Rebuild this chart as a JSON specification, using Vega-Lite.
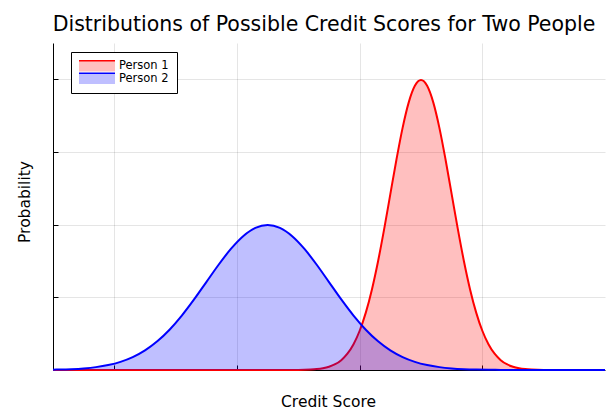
{
  "$schema": "https://vega.github.io/schema/vega-lite/v6.json",
  "width": 552,
  "height": 327,
  "autosize": {"type": "none"},
  "padding": {"left": 53, "top": 43, "right": 8, "bottom": 40},
  "background": "white",
  "config": {"font": "DejaVu Sans", "view": {"stroke": null}},
  "title": {
    "text": "Distributions of Possible Credit Scores for Two People",
    "fontSize": 20.5,
    "fontWeight": "normal",
    "color": "#000",
    "anchor": "middle",
    "frame": "group",
    "baseline": "alphabetic",
    "offset": 13,
    "dx": -5,
    "dy": 21
  },
  "data": {
    "values": [
      {"score": 350, "prob": 0, "person": "Person 1"},
      {"score": 400, "prob": 0, "person": "Person 1"},
      {"score": 450, "prob": 0, "person": "Person 1"},
      {"score": 500, "prob": 0, "person": "Person 1"},
      {"score": 530, "prob": 0, "person": "Person 1"},
      {"score": 540, "prob": 0.000001, "person": "Person 1"},
      {"score": 545, "prob": 0.0000024, "person": "Person 1"},
      {"score": 550, "prob": 0.0000053, "person": "Person 1"},
      {"score": 555, "prob": 0.0000117, "person": "Person 1"},
      {"score": 560, "prob": 0.0000245, "person": "Person 1"},
      {"score": 565, "prob": 0.0000493, "person": "Person 1"},
      {"score": 570, "prob": 0.0000954, "person": "Person 1"},
      {"score": 575, "prob": 0.000177, "person": "Person 1"},
      {"score": 580, "prob": 0.000317, "person": "Person 1"},
      {"score": 585, "prob": 0.000543, "person": "Person 1"},
      {"score": 590, "prob": 0.000896, "person": "Person 1"},
      {"score": 595, "prob": 0.001419, "person": "Person 1"},
      {"score": 600, "prob": 0.00216, "person": "Person 1"},
      {"score": 605, "prob": 0.003158, "person": "Person 1"},
      {"score": 610, "prob": 0.004437, "person": "Person 1"},
      {"score": 615, "prob": 0.005989, "person": "Person 1"},
      {"score": 620, "prob": 0.007767, "person": "Person 1"},
      {"score": 625, "prob": 0.009679, "person": "Person 1"},
      {"score": 630, "prob": 0.011588, "person": "Person 1"},
      {"score": 635, "prob": 0.013329, "person": "Person 1"},
      {"score": 640, "prob": 0.014731, "person": "Person 1"},
      {"score": 645, "prob": 0.015642, "person": "Person 1"},
      {"score": 650, "prob": 0.015958, "person": "Person 1"},
      {"score": 655, "prob": 0.015642, "person": "Person 1"},
      {"score": 660, "prob": 0.014731, "person": "Person 1"},
      {"score": 665, "prob": 0.013329, "person": "Person 1"},
      {"score": 670, "prob": 0.011588, "person": "Person 1"},
      {"score": 675, "prob": 0.009679, "person": "Person 1"},
      {"score": 680, "prob": 0.007767, "person": "Person 1"},
      {"score": 685, "prob": 0.005989, "person": "Person 1"},
      {"score": 690, "prob": 0.004437, "person": "Person 1"},
      {"score": 695, "prob": 0.003158, "person": "Person 1"},
      {"score": 700, "prob": 0.00216, "person": "Person 1"},
      {"score": 705, "prob": 0.001419, "person": "Person 1"},
      {"score": 710, "prob": 0.000896, "person": "Person 1"},
      {"score": 715, "prob": 0.000543, "person": "Person 1"},
      {"score": 720, "prob": 0.000317, "person": "Person 1"},
      {"score": 725, "prob": 0.000177, "person": "Person 1"},
      {"score": 730, "prob": 0.0000954, "person": "Person 1"},
      {"score": 735, "prob": 0.0000493, "person": "Person 1"},
      {"score": 740, "prob": 0.0000245, "person": "Person 1"},
      {"score": 745, "prob": 0.0000117, "person": "Person 1"},
      {"score": 750, "prob": 0.0000053, "person": "Person 1"},
      {"score": 755, "prob": 0.0000024, "person": "Person 1"},
      {"score": 760, "prob": 0.000001, "person": "Person 1"},
      {"score": 780, "prob": 0, "person": "Person 1"},
      {"score": 800, "prob": 0, "person": "Person 1"},
      {"score": 350, "prob": 0.0000175, "person": "Person 2"},
      {"score": 355, "prob": 0.0000246, "person": "Person 2"},
      {"score": 365, "prob": 0.0000477, "person": "Person 2"},
      {"score": 375, "prob": 0.0000886, "person": "Person 2"},
      {"score": 385, "prob": 0.000158, "person": "Person 2"},
      {"score": 395, "prob": 0.000272, "person": "Person 2"},
      {"score": 405, "prob": 0.000448, "person": "Person 2"},
      {"score": 415, "prob": 0.000709, "person": "Person 2"},
      {"score": 425, "prob": 0.00108, "person": "Person 2"},
      {"score": 435, "prob": 0.001579, "person": "Person 2"},
      {"score": 445, "prob": 0.002218, "person": "Person 2"},
      {"score": 455, "prob": 0.002995, "person": "Person 2"},
      {"score": 465, "prob": 0.003884, "person": "Person 2"},
      {"score": 475, "prob": 0.004839, "person": "Person 2"},
      {"score": 485, "prob": 0.005794, "person": "Person 2"},
      {"score": 495, "prob": 0.006664, "person": "Person 2"},
      {"score": 505, "prob": 0.007365, "person": "Person 2"},
      {"score": 515, "prob": 0.007821, "person": "Person 2"},
      {"score": 525, "prob": 0.007979, "person": "Person 2"},
      {"score": 535, "prob": 0.007821, "person": "Person 2"},
      {"score": 545, "prob": 0.007365, "person": "Person 2"},
      {"score": 555, "prob": 0.006664, "person": "Person 2"},
      {"score": 565, "prob": 0.005794, "person": "Person 2"},
      {"score": 575, "prob": 0.004839, "person": "Person 2"},
      {"score": 585, "prob": 0.003884, "person": "Person 2"},
      {"score": 595, "prob": 0.002995, "person": "Person 2"},
      {"score": 605, "prob": 0.002218, "person": "Person 2"},
      {"score": 615, "prob": 0.001579, "person": "Person 2"},
      {"score": 625, "prob": 0.00108, "person": "Person 2"},
      {"score": 635, "prob": 0.000709, "person": "Person 2"},
      {"score": 645, "prob": 0.000448, "person": "Person 2"},
      {"score": 655, "prob": 0.000272, "person": "Person 2"},
      {"score": 665, "prob": 0.000158, "person": "Person 2"},
      {"score": 675, "prob": 0.0000886, "person": "Person 2"},
      {"score": 685, "prob": 0.0000477, "person": "Person 2"},
      {"score": 695, "prob": 0.0000246, "person": "Person 2"},
      {"score": 705, "prob": 0.0000122, "person": "Person 2"},
      {"score": 715, "prob": 0.0000058, "person": "Person 2"},
      {"score": 725, "prob": 0.0000027, "person": "Person 2"},
      {"score": 745, "prob": 0, "person": "Person 2"},
      {"score": 775, "prob": 0, "person": "Person 2"},
      {"score": 800, "prob": 0, "person": "Person 2"}
    ]
  },
  "encoding": {
    "x": {
      "field": "score",
      "type": "quantitative",
      "scale": {"domain": [350, 800], "nice": false, "zero": false},
      "axis": {
        "title": "Credit Score",
        "values": [400, 500, 600, 700],
        "labels": false,
        "tickSize": -5,
        "tickColor": "#000",
        "domainColor": "#000",
        "domainWidth": 1,
        "gridColor": "#000",
        "gridOpacity": 0.1,
        "titleFontSize": 15.5,
        "titleFontWeight": "normal",
        "titleColor": "#000",
        "titleBaseline": "alphabetic",
        "titleAlign": "center",
        "titleX": 275,
        "titleY": 36
      }
    },
    "y": {
      "field": "prob",
      "type": "quantitative",
      "stack": null,
      "scale": {"domain": [0, 0.018], "nice": false},
      "axis": {
        "title": "Probability",
        "values": [0.004, 0.008, 0.012, 0.016],
        "labels": false,
        "tickSize": -5,
        "tickColor": "#000",
        "domainColor": "#000",
        "domainWidth": 1,
        "gridColor": "#000",
        "gridOpacity": 0.1,
        "titleFontSize": 15.5,
        "titleFontWeight": "normal",
        "titleColor": "#000",
        "titleBaseline": "alphabetic",
        "titleAlign": "center",
        "titleAngle": 270,
        "titleX": -24,
        "titleY": 158.5
      }
    },
    "color": {
      "field": "person",
      "type": "nominal",
      "scale": {"domain": ["Person 1", "Person 2"], "range": ["#ff0000", "#0000ff"]},
      "legend": {
        "title": null,
        "orient": "none",
        "legendX": 18,
        "legendY": 9,
        "direction": "vertical",
        "fillColor": "#ffffff",
        "strokeColor": "#000000",
        "padding": 8,
        "cornerRadius": 0,
        "clipHeight": 12,
        "symbolType": "M-1.4,-1.1L6,-1.1L6,1.1L-1.4,1.1Z",
        "symbolSize": 100,
        "symbolStrokeWidth": 2,
        "symbolDash": [37, 300],
        "labelFontSize": 11.5,
        "labelColor": "#000",
        "labelOffset": 28,
        "labelExpr": "datum.label + '\u2002'",
        "rowPadding": 0.5,
        "encode": {
          "symbols": {
            "update": {
              "fill": {"scale": "color", "field": "value"},
              "fillOpacity": {"value": 0.25},
              "stroke": {"scale": "color", "field": "value"},
              "strokeOpacity": {"value": 1},
              "opacity": {"value": 1}
            }
          }
        }
      }
    }
  },
  "layer": [
    {
      "transform": [{"filter": "datum.person === 'Person 1'"}],
      "mark": {"type": "area", "fillOpacity": 0.25, "interpolate": "monotone"}
    },
    {
      "transform": [{"filter": "datum.person === 'Person 1'"}],
      "mark": {"type": "line", "strokeWidth": 2, "interpolate": "monotone"}
    },
    {
      "transform": [{"filter": "datum.person === 'Person 2'"}],
      "mark": {"type": "area", "fillOpacity": 0.25, "interpolate": "monotone"}
    },
    {
      "transform": [{"filter": "datum.person === 'Person 2'"}],
      "mark": {"type": "line", "strokeWidth": 2, "interpolate": "monotone"}
    }
  ]
}
